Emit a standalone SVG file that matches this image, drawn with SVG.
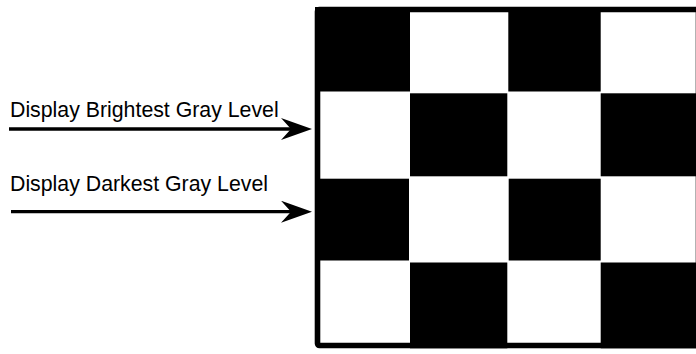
<svg xmlns="http://www.w3.org/2000/svg" width="696" height="354" viewBox="0 0 696 354">
<style>
.lbl{font-family:"Liberation Sans",Arial,sans-serif;font-size:21.3px;fill:#000}
.blk{fill:#000}
.conn{stroke:#000;stroke-width:3.3;fill:none}
</style>
<defs>
<marker id="ah" viewBox="0 0 31 22" markerWidth="31" markerHeight="22" refX="14" refY="11" markerUnits="userSpaceOnUse" orient="auto">
<polygon points="0,0 31,11 0,22 10,11" fill="#000"/>
</marker>
</defs>
<rect width="696" height="354" fill="#fff"/>
<g id="checkerboard">
<rect x="317.5" y="9.5" width="381" height="336" rx="2" fill="#fff" stroke="#000" stroke-width="5.6"/>
<rect class="blk" x="315" y="7" width="95" height="84.5"/>
<rect class="blk" x="508.3" y="7" width="92.4" height="84.5"/>
<rect class="blk" x="410" y="93.3" width="97.3" height="83"/>
<rect class="blk" x="600.7" y="93.3" width="95.3" height="83"/>
<rect class="blk" x="315" y="178.7" width="94" height="81.8"/>
<rect class="blk" x="508.7" y="178.7" width="92" height="81.8"/>
<rect class="blk" x="410" y="262.5" width="97.3" height="85.8"/>
<rect class="blk" x="600.7" y="262.5" width="95.3" height="85.8"/>
</g>
<g id="label-brightest">
<text class="lbl" x="10" y="117">Display Brightest Gray Level</text>
</g>
<g id="label-darkest">
<text class="lbl" x="10" y="191">Display Darkest Gray Level</text>
</g>
<g id="connectors">
<line class="conn" x1="9" y1="129" x2="295" y2="129" marker-end="url(#ah)"/>
<line class="conn" x1="11" y1="211.7" x2="295" y2="211.7" marker-end="url(#ah)"/>
</g>
</svg>
